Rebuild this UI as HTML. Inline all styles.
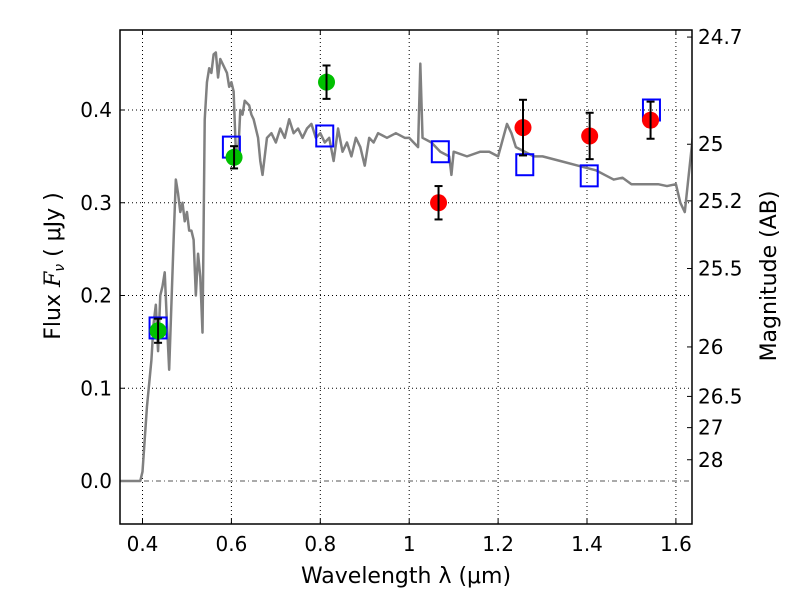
<!DOCTYPE html>
<html><head><meta charset="utf-8"><style>
body{margin:0;background:#fff;font-family:"DejaVu Sans","Liberation Sans",sans-serif;}
text{font-family:"DejaVu Sans","Liberation Sans",sans-serif;}
</style></head><body>
<svg id="c" width="800" height="600" xmlns="http://www.w3.org/2000/svg"></svg>
<script>
const xTicks=[0.4,0.6,0.8,1.0,1.2,1.4,1.6];
const xTickLabels=["0.4","0.6","0.8","1","1.2","1.4","1.6"];
const yTicks=[0.0,0.1,0.2,0.3,0.4];
const yTickLabels=["0.0","0.1","0.2","0.3","0.4"];
const magTicks=[24.7,25,25.2,25.5,26,26.5,27,28];
const magTickLabels=["24.7","25","25.2","25.5","26","26.5","27","28"];
const specX=[0.35,0.395,0.40,0.41,0.42,0.425,0.43,0.435,0.44,0.445,0.45,0.455,0.46,0.47,0.475,0.48,0.485,0.49,0.495,0.5,0.505,0.51,0.515,0.52,0.525,0.53,0.535,0.54,0.545,0.55,0.555,0.56,0.565,0.57,0.575,0.58,0.59,0.595,0.6,0.605,0.61,0.615,0.62,0.625,0.63,0.64,0.645,0.65,0.66,0.665,0.67,0.68,0.69,0.70,0.71,0.72,0.73,0.74,0.75,0.76,0.77,0.78,0.79,0.80,0.81,0.82,0.83,0.84,0.85,0.86,0.87,0.88,0.89,0.90,0.91,0.92,0.93,0.95,0.97,0.99,1.0,1.01,1.02,1.025,1.03,1.05,1.07,1.09,1.095,1.10,1.13,1.16,1.18,1.20,1.22,1.23,1.24,1.26,1.28,1.30,1.34,1.38,1.42,1.44,1.46,1.48,1.50,1.52,1.56,1.58,1.60,1.61,1.62,1.64];
const specY=[0,0,0.01,0.08,0.13,0.17,0.19,0.14,0.2,0.21,0.225,0.17,0.12,0.26,0.325,0.31,0.29,0.3,0.28,0.29,0.27,0.27,0.26,0.2,0.245,0.22,0.16,0.39,0.43,0.445,0.44,0.46,0.462,0.435,0.455,0.45,0.44,0.425,0.43,0.42,0.355,0.35,0.4,0.395,0.41,0.405,0.395,0.39,0.37,0.345,0.33,0.37,0.375,0.365,0.38,0.37,0.39,0.375,0.38,0.37,0.38,0.385,0.37,0.375,0.365,0.37,0.345,0.38,0.355,0.365,0.35,0.37,0.36,0.34,0.37,0.365,0.375,0.37,0.375,0.37,0.37,0.365,0.36,0.45,0.37,0.365,0.355,0.35,0.33,0.355,0.35,0.355,0.355,0.35,0.385,0.375,0.36,0.355,0.35,0.35,0.345,0.34,0.335,0.33,0.325,0.327,0.32,0.32,0.32,0.318,0.32,0.30,0.29,0.38];
const greenX=[0.435,0.606,0.814];
const greenY=[0.162,0.349,0.43];
const greenErr=[0.013,0.012,0.018];
const redX=[1.066,1.256,1.406,1.543];
const redY=[0.30,0.381,0.372,0.389];
const redErr=[0.018,0.03,0.025,0.02];
const modelX=[0.435,0.6,0.81,1.07,1.26,1.405,1.545];
const modelY=[0.165,0.36,0.372,0.355,0.341,0.329,0.4];

const NS="http://www.w3.org/2000/svg";
const svg=document.getElementById('c');
const L=120,R=692,T=30,B=524;
const X=v=>142.5+(v-0.4)*444.5;
const Y=v=>481-v*927.5;
const magY=m=>Y(Math.pow(10,-0.4*(m-23.9)));
function mk(tag,attrs,parent){const e=document.createElementNS(NS,tag);for(const k in attrs)e.setAttribute(k,attrs[k]);(parent||svg).appendChild(e);return e;}
const defs=mk('defs',{});const cp=mk('clipPath',{id:'clip'},defs);mk('rect',{x:L,y:T,width:R-L,height:B-T},cp);

xTicks.forEach((t,i)=>{
 const g=mk('line',{x1:X(t),x2:X(t),y1:T,y2:B,stroke:'#000','stroke-width':1,'stroke-dasharray':'1,3'});
 
 
 mk('line',{x1:X(t),x2:X(t),y1:B,y2:B-5,stroke:'#000'});
 mk('line',{x1:X(t),x2:X(t),y1:T,y2:T+5,stroke:'#000'});
 const tx=mk('text',{x:X(t),y:B+27,'font-size':20,'text-anchor':'middle'});tx.textContent=xTickLabels[i];
 
 
});
yTicks.forEach((t,i)=>{
 if(t!==0){const g=mk('line',{x1:L,x2:R,y1:Y(t),y2:Y(t),stroke:'#000','stroke-width':1,'stroke-dasharray':'1,3'});
 
 }
 mk('line',{x1:L,x2:L+5,y1:Y(t),y2:Y(t),stroke:'#000'});
 const tx=mk('text',{x:L-8,y:Y(t)+7,'font-size':20,'text-anchor':'end'});tx.textContent=yTickLabels[i];
 
 
});
const zl=mk('line',{x1:L,x2:R,y1:Y(0),y2:Y(0),stroke:'#555','stroke-width':1,'stroke-dasharray':'5,3,1,3'});


magTicks.forEach((m,i)=>{
 mk('line',{x1:R-5,x2:R,y1:magY(m),y2:magY(m),stroke:'#000'});
 const tx=mk('text',{x:R+6,y:magY(m)+7,'font-size':20});tx.textContent=magTickLabels[i];
 
 
});

const g=mk('g',{'clip-path':'url(#clip)'});
const sp=mk('polyline',{points:specX.map((x,i)=>X(x)+','+Y(specY[i])).join(' '),fill:'none',stroke:'#808080','stroke-width':2.5,'stroke-linejoin':'round'},g);



modelX.forEach((x,i)=>{
 const r=mk('rect',{x:X(x)-8.5,y:Y(modelY[i])-10.5,width:17,height:21,fill:'none',stroke:'#0000ff','stroke-width':2},g);
 
 
});
function pts(xs,ys,es,col,name){xs.forEach((x,i)=>{
 const c=mk('circle',{cx:X(x),cy:Y(ys[i]),r:8.5,fill:col},g);
 
 
 const y1=Y(ys[i]+es[i]),y2=Y(ys[i]-es[i]),cx=X(x);
 mk('line',{x1:cx,x2:cx,y1:y1,y2:y2,stroke:'#000','stroke-width':2},g);
 mk('line',{x1:cx-4,x2:cx+4,y1:y1,y2:y1,stroke:'#000','stroke-width':2},g);
 mk('line',{x1:cx-4,x2:cx+4,y1:y2,y2:y2,stroke:'#000','stroke-width':2},g);
});}
pts(greenX,greenY,greenErr,'#00c000','green-photometry-point');
pts(redX,redY,redErr,'#ff0000','red-photometry-point');

const fr=mk('rect',{x:L,y:T,width:R-L,height:B-T,fill:'none',stroke:'#000','stroke-width':1.5});



const xl=mk('text',{x:406,y:583,'font-size':22,'text-anchor':'middle','xml:space':'preserve'});
xl.textContent='Wavelength  λ (μm)';


const yl=mk('text',{x:0,y:0,'font-size':22,'text-anchor':'middle',transform:'translate(60,266) rotate(-90)','xml:space':'preserve'});
yl.innerHTML='Flux  <tspan font-style="italic" font-family="DejaVu Serif, serif">F</tspan><tspan font-size="14" dy="4" font-style="italic">ν</tspan><tspan dy="-4">  ( μJy )</tspan>';


const rl=mk('text',{x:0,y:0,'font-size':22,'text-anchor':'middle',transform:'translate(776,276) rotate(-90)'});
rl.textContent='Magnitude (AB)';


</script>
</body></html>
